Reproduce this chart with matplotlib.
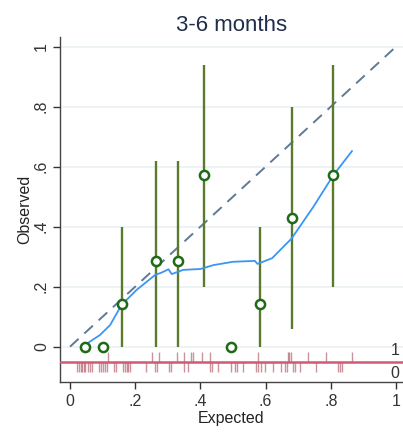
import matplotlib
matplotlib.use("Agg")
import matplotlib.pyplot as plt
import numpy as np

plt.rcParams['font.family'] = ['Liberation Sans', 'DejaVu Sans']

# ---- data ----
bin_expected = [0.046, 0.101, 0.161, 0.265, 0.332, 0.411, 0.494, 0.583, 0.680, 0.808]
bin_observed = [0.0, 0.0, 0.143, 0.286, 0.286, 0.571, 0.0, 0.143, 0.429, 0.571]
ci_x = [0.161, 0.265, 0.332, 0.411, 0.583, 0.680, 0.808]
ci_low = [0.0, 0.0, 0.0, 0.20, 0.0, 0.06, 0.20]
ci_high = [0.40, 0.62, 0.62, 0.94, 0.40, 0.80, 0.94]

lowess_x = [0.046, 0.092, 0.123, 0.158, 0.204, 0.261, 0.281, 0.302, 0.312,
            0.347, 0.400, 0.440, 0.500, 0.567, 0.575, 0.620, 0.680, 0.747,
            0.808, 0.865]
lowess_y = [0.006, 0.039, 0.072, 0.139, 0.189, 0.239, 0.247, 0.258, 0.242,
            0.256, 0.259, 0.272, 0.283, 0.286, 0.276, 0.295, 0.361, 0.467,
            0.572, 0.652]

rug_events = [0.116, 0.251, 0.274, 0.327, 0.351, 0.371, 0.376, 0.406, 0.429,
              0.576, 0.668, 0.673, 0.678, 0.729, 0.785, 0.864]
rug_nonevents = [0.022, 0.028, 0.033, 0.038, 0.043, 0.046, 0.056, 0.061, 0.068,
                 0.090, 0.094, 0.101, 0.107, 0.113, 0.135, 0.141, 0.164, 0.169,
                 0.174, 0.179, 0.184, 0.233, 0.261, 0.266, 0.304, 0.309, 0.351,
                 0.361, 0.429, 0.435, 0.453, 0.494, 0.506, 0.511, 0.530, 0.571,
                 0.576, 0.586, 0.598, 0.622, 0.647, 0.660, 0.667, 0.685, 0.690,
                 0.706, 0.755, 0.823, 0.828, 0.835]

ticks = [0, 0.2, 0.4, 0.6, 0.8, 1]
tick_labels = ["0", ".2", ".4", ".6", ".8", "1"]

fig = plt.figure(figsize=(4.03, 4.34), dpi=100)
ax = fig.add_axes([60/403, (434-381.7)/434, 343/403, (381.7-36.7)/434])

ax.set_xlim(-0.0307, 1.0215)
ax.set_ylim(-0.1167, 1.0333)

for t in ticks:
    ax.axhline(t, color="#eaf1f2", lw=1.2, zorder=0)

# reference line
ax.plot([0, 1], [0, 1], color="#5f7a94", lw=1.4, dashes=(6, 4), zorder=2)

# CIs
ax.vlines(ci_x, ci_low, ci_high, color="#5b7a2e", lw=1.7, zorder=3)

# lowess
ax.plot(lowess_x, lowess_y, color="#3b95f5", lw=1.3, zorder=4)

# binned points
ax.plot(bin_expected, bin_observed, 'o', ms=6.6, mfc="white", mec="#1f6a16",
        mew=1.8, zorder=5)

# rug
ax.axhline(-0.05, color="#d05a74", lw=1.8, zorder=3)
ax.vlines(rug_events, -0.017, -0.05, color="#a03a4a", lw=1.0, alpha=0.55, zorder=2)
ax.vlines(rug_nonevents, -0.05, -0.085, color="#a03a4a", lw=1.0, alpha=0.55, zorder=2)
ax.text(0.997, -0.014, "1", ha="center", va="center", fontsize=11.5, color="#333333")
ax.text(0.997, -0.091, "0", ha="center", va="center", fontsize=11.5, color="#333333")

ax.set_xticks(ticks)
ax.set_xticklabels(tick_labels)
ax.set_yticks(ticks)
ax.set_yticklabels(tick_labels, rotation=90, va="center")
ax.tick_params(axis="both", labelsize=11.5, colors="#333333", length=5, width=1)
ax.tick_params(axis="y", pad=3)
ax.tick_params(axis="x", pad=4)

for s in ["top", "right"]:
    ax.spines[s].set_visible(False)
for s in ["left", "bottom"]:
    ax.spines[s].set_color("#444444")
    ax.spines[s].set_linewidth(1.0)

ax.set_xlabel("Expected", fontsize=11.5, color="#222222", labelpad=1)
ax.set_ylabel("Observed", fontsize=11.5, color="#222222", labelpad=1)
ax.set_title("3-6 months", fontsize=16, color="#1e2d4a", pad=4)

fig.savefig("out.png", dpi=100)
